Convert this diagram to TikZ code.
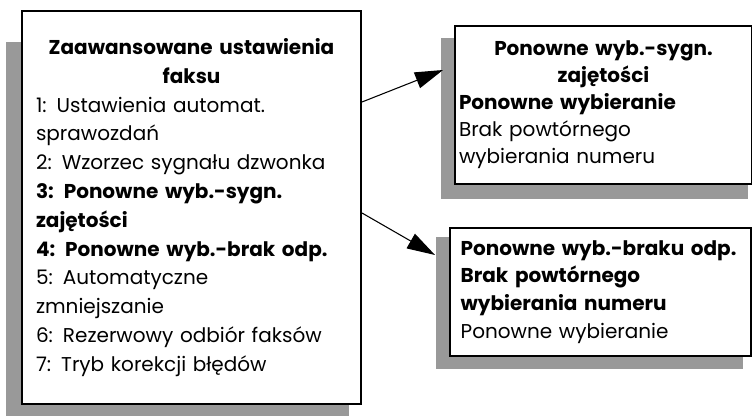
\documentclass[tikz,border=0pt]{standalone}
\usepackage{fontspec}
\setmainfont{Poppins}
\usetikzlibrary{positioning,arrows.meta,backgrounds,calc}

\begin{document}
\begin{tikzpicture}[x=0.75pt, y=-0.75pt,
  menubox/.style={draw, line width=1.5pt, fill=white, anchor=north west, align=left, inner ysep=0pt, font=\fontsize{15pt}{21.6pt}\selectfont},
  shadowbox/.style={fill=black!40},
  pointer/.style={line width=0.8pt, -{Triangle[length=21pt, width=12.5pt]}}]
\useasboundingbox (0,0) rectangle (752,416);

\node[menubox, text width=233.25pt, inner xsep=10.5pt, minimum height=294.75pt] (menu) at (21,10)
  {{\centering\bfseries Zaawansowane ustawienia\\faksu\par}
   1: Ustawienia automat.\\ sprawozdań\\ 2: Wzorzec sygnału dzwonka\\
   \textbf{3: Ponowne wyb.-sygn.}\\ \textbf{zajętości}\\ \textbf{4: Ponowne wyb.-brak odp.}\\
   5: Automatyczne\\ zmniejszanie\\ 6: Rezerwowy odbiór faksów\\ 7: Tryb korekcji błędów\par\vspace{8pt}};

\node[menubox, text width=216.75pt, inner xsep=3pt, minimum height=118.5pt, font=\fontsize{15pt}{20.3pt}\selectfont] (busy) at (454,25)
  {{\centering\bfseries Ponowne wyb.-sygn.\\zajętości\par}
   \textbf{Ponowne wybieranie}\\ Brak powtórnego\\ wybierania numeru};

\node[menubox, text width=210pt, inner xsep=8pt, minimum height=96pt, font=\fontsize{15pt}{20.8pt}\selectfont] (noanswer) at (449,227)
  {\textbf{Ponowne wyb.-braku odp.}\\ \textbf{Brak powtórnego}\\ \textbf{wybierania numeru}\\ Ponowne wybieranie};

\begin{scope}[on background layer]
\fill[shadowbox] ($(menu.north west)+(-15,32)$) rectangle ($(menu.south east)+(-13,12)$);
\fill[shadowbox] ($(busy.north west)+(-13,13)$) rectangle ($(busy.south east)+(-5,14)$);
\fill[shadowbox] ($(noanswer.north west)+(-13,10)$) rectangle ($(noanswer.south east)+(-9,12)$);
\end{scope}

\coordinate (busyin) at ($(busy.north west)+(-11,45)$);
\coordinate (noansin) at ($(noanswer.north west)+(-14,28)$);
\draw[pointer] (menu.north east |- 0,102) -- (busyin);
\draw[pointer] (menu.north east |- 0,213) -- (noansin);

\end{tikzpicture}
\end{document}
